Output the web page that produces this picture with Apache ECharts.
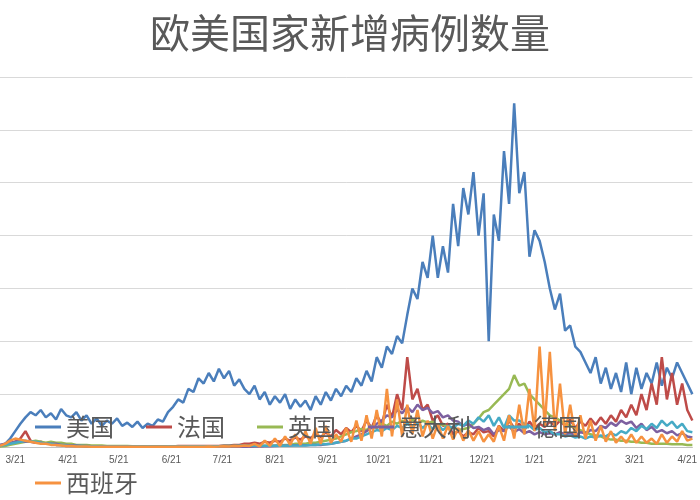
<!DOCTYPE html>
<html><head><meta charset="utf-8">
<script src="https://cdn.jsdelivr.net/npm/echarts@6/dist/echarts.min.js"></script>
<style>html,body{margin:0;padding:0;background:#fff}#c{width:700px;height:500px}</style>
</head><body><div id="c"></div>
<script>
// sampled every 3 days from 2020-03-12, values in thousands
const startDate = [2020, 2, 12];
const stepDays = 3;
const seriesNames = ['美国','法国','英国','意大利','德国','西班牙'];
const usa = [1,3,8,15,22,28,33,30,35,28,32,26,36,30,28,33,25,30,22,27,20,25,22,27,20,23,19,24,18,22,20,26,24,33,38,45,42,55,52,65,60,70,62,74,65,72,58,64,55,50,58,45,52,40,48,42,50,36,45,38,44,35,48,40,52,44,55,48,58,52,65,58,72,62,85,75,95,88,105,98,125,150,140,175,160,200,160,190,165,230,190,245,220,260,200,240,100,220,195,280,230,325,240,260,180,205,195,175,150,130,145,110,115,95,90,80,70,85,60,75,55,70,52,80,50,75,55,70,60,80,58,75,65,80,70,60,50];
const france = [1,2,3,5,8,15,6,4,5,3,3,2,2,1,1,1,1,0.5,0.5,0.5,0.5,0.5,0.5,0.5,0.5,0.5,0.5,0.5,0.5,0.5,0.5,0.5,0.5,0.5,0.5,1,1,1,1,1,1,1,1,1,1.5,1.5,2,2,3,3,4,3,5,4,6,5,8,6,9,7,10,8,13,9,14,10,16,12,18,14,20,15,25,18,30,22,40,28,50,35,85,45,55,35,40,25,30,20,22,12,15,10,14,12,18,14,15,10,20,15,25,18,22,16,24,18,22,19,24,20,25,20,26,18,24,20,27,21,28,22,30,24,35,28,40,30,50,35,60,40,85,45,70,40,60,35,25];
const uk = [0.5,1,2,3,4,5,5,6,5,4,5,4,4,3,3,2,2,2,1.5,1.5,1.5,1,1,1,1,1,0.8,0.8,0.8,0.8,0.8,0.8,0.8,0.8,0.8,0.8,0.8,0.8,0.8,0.8,0.8,0.8,0.8,0.8,1,1,1,1,1,1,1,1,1.2,1.2,1.5,1.5,2,2,3,3,3,4,4,5,6,7,8,10,12,14,15,17,16,20,18,22,20,24,22,25,22,26,22,25,23,24,20,22,18,19,16,17,18,22,27,33,35,40,45,50,55,68,58,60,50,45,40,35,30,28,25,22,20,18,16,14,12,11,10,8,7,7,6,6,5,5,4,4,3,3,3,3,2.5,2.5,2.5,2,2];
const italy = [2,3,4,5,6,5,5,4,4,3,3,3,2,2,1.5,1.5,1,1,0.8,0.6,0.3,0.3,0.3,0.3,0.3,0.3,0.3,0.3,0.3,0.3,0.3,0.3,0.3,0.3,0.3,0.3,0.3,0.3,0.3,0.3,0.3,0.2,0.2,0.2,0.2,0.3,0.3,0.3,0.3,0.3,0.4,0.5,0.6,0.8,1,1.2,1.3,1.5,1.6,1.7,1.7,1.8,2,2,2.5,3,4,5,6,8,10,12,15,18,22,25,30,28,35,32,38,33,40,35,37,32,34,28,30,25,24,20,22,18,19,16,18,12,16,15,20,14,17,13,15,12,14,12,13,12,14,12,13,11,14,13,16,15,20,18,23,20,25,22,24,18,22,16,19,14,16,13,15,11,13,10,9];
const germany = [1,2,3,4,5,6,5,5,4,3,3,2,2,1.5,1,1,1,0.8,0.6,0.6,0.5,0.5,0.5,0.5,0.5,0.5,0.5,0.6,0.5,0.6,0.5,0.5,0.5,0.6,0.5,0.5,0.5,0.6,0.6,0.7,0.7,0.8,0.8,0.8,1,1,1,1.2,1.2,1.3,1.2,1.2,1.2,1.3,1.3,1.4,1.3,1.4,1.4,1.5,1.5,2,2,2.5,2.5,3,4,5,6,8,8,10,12,14,16,15,18,16,20,18,22,19,23,18,22,17,21,16,20,18,22,20,25,22,28,24,30,20,28,18,30,25,25,22,20,16,18,14,15,12,12,10,11,9,10,8,10,9,11,10,13,11,15,13,18,15,20,17,22,18,25,20,24,18,22,15,14];
const spain = [1,3,6,8,7,6,5,4,3,3,2,2,1.5,1,1,0.5,0.5,0.5,0.3,0.3,0.3,0.3,0.3,0.3,0.3,0.3,0.3,0.3,0.3,0.3,0.3,0.3,0.3,0.3,0.3,0.3,0.3,0.3,0.3,0.3,0.3,0.5,0.3,0.5,0.8,0.5,1,0.8,1.5,1,3,0.5,6,1,8,1,10,2,12,2,15,3,18,3,20,4,12,5,18,5,25,6,30,8,35,10,55,10,45,10,40,12,35,10,25,8,22,8,20,7,18,6,16,6,15,5,12,5,20,6,30,8,40,12,55,15,95,20,90,15,60,12,40,10,30,8,25,6,20,5,15,4,10,4,12,4,10,4,8,3,12,4,10,5,15,6,8];
const colors = ['#4a7ebb','#be4b48','#98b954','#7d60a0','#46aac5','#f69240'];
const allData = [usa, france, uk, italy, germany, spain];

const nDays = (usa.length - 1) * stepDays + 1;
const cats = [];
const d0 = new Date(startDate[0], startDate[1], startDate[2]);
for (let i = 0; i < nDays; i++) {
  const d = new Date(d0.getTime() + i * 86400000);
  cats.push((d.getMonth() + 1) + '/' + d.getDate());
}
function expand(arr) {
  const out = new Array(nDays).fill(null);
  arr.forEach((v, i) => { out[i * stepDays] = v * 1000; });
  return out;
}
const chart = echarts.init(document.getElementById('c'));
chart.setOption({
  animation: false,
  title: { text: '欧美国家新增病例数量', left: 'center', top: 8,
    textStyle: { fontSize: 40, fontWeight: 'normal', color: '#595959', fontFamily: 'Noto Sans CJK SC' } },
  grid: { left: 0, right: 0, top: 77, bottom: 53 },
  legend: { bottom: 0, left: 30, itemGap: 32, itemWidth: 26, itemHeight: 3, icon: 'rect',
    textStyle: { fontSize: 24, color: '#595959', fontFamily: 'Noto Sans CJK SC' } },
  xAxis: { type: 'category', data: cats, boundaryGap: false,
    axisLine: { lineStyle: { color: '#bfbfbf' } }, axisTick: { show: false },
    axisLabel: { color: '#595959', fontSize: 10, margin: 8,
      interval: (i, v) => /\/21$/.test(v) } },
  yAxis: { type: 'value', min: 0, max: 350000, interval: 50000,
    axisLabel: { show: false }, axisLine: { show: false }, axisTick: { show: false },
    splitLine: { lineStyle: { color: '#d9d9d9' } } },
  series: seriesNames.map((n, k) => ({
    name: n, type: 'line', data: expand(allData[k]), connectNulls: true,
    showSymbol: false, color: colors[k], lineStyle: { width: 2.5 }
  }))
});
</script></body></html>
